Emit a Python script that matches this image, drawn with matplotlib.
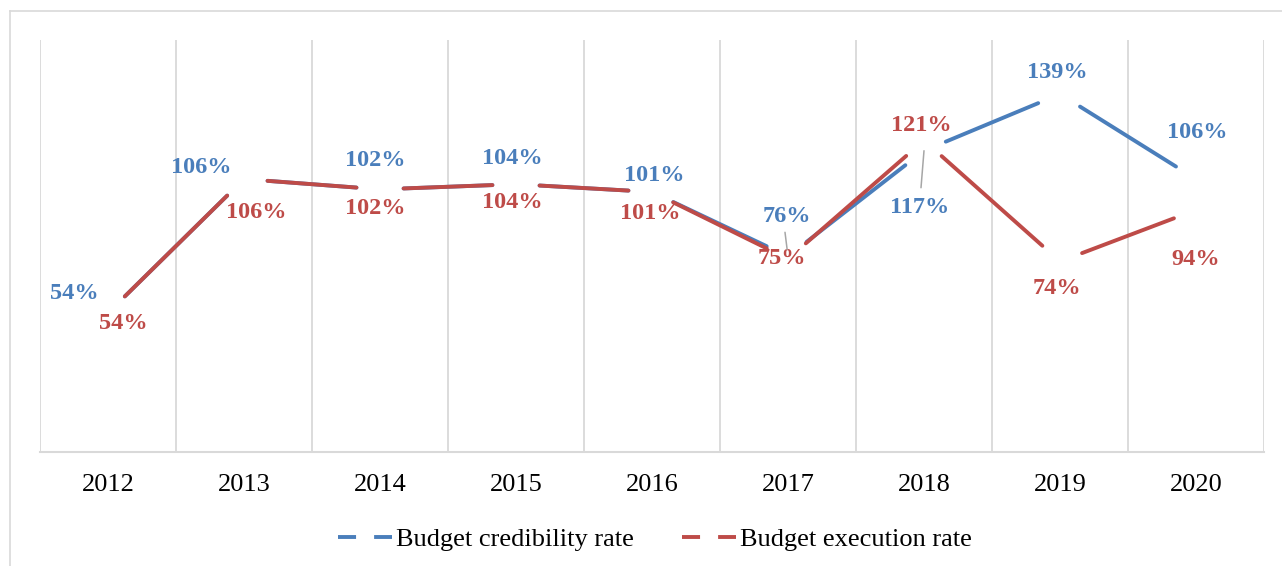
import matplotlib
matplotlib.use('Agg')
import matplotlib.pyplot as plt
from matplotlib.lines import Line2D

plt.rcParams['font.family'] = ['Liberation Serif', 'DejaVu Serif']
plt.rcParams['lines.scale_dashes'] = False

# ── data ──
years = ['2012', '2013', '2014', '2015', '2016', '2017', '2018', '2019', '2020']
credibility = [54, 106, 102, 104, 101, 76, 117, 139, 106]
execution = [54, 106, 102, 104, 101, 75, 121, 74, 94]

# label offsets (px, relative to point; +y is down in picture)
cred_off = [(-34, -19), (-43, -12), (-5, -29), (-4, -26), (2, -16),
            (-1, -40), (-4, 57), (-3, -22), (1, -47)]
exec_off = [(15, 11), (12, 33), (-5, 19), (-4, 18), (-2, 22),
            (-6, 0), (-3, -15), (-3, 27), (0, 50)]

BLUE = '#4A7EBB'
RED = '#BE4B48'
GRID = '#D9D9D9'
LEADER = '#A6A6A6'
PX = 0.72  # points per pixel at dpi 100

fig = plt.figure(figsize=(12.82, 5.66), dpi=100)
fig.patch.set_facecolor('white')
ax = fig.add_axes([40 / 1282, 1 - 452 / 566, 1224 / 1282, 412 / 566])
ax.set_xlim(-0.5, len(years) - 0.5)
ax.set_ylim(0, 160)
for s in ['top', 'left', 'right']:
    ax.spines[s].set_visible(False)
ax.spines['bottom'].set_color(GRID)
ax.spines['bottom'].set_linewidth(1.5)
ax.set_yticks([])
x = list(range(len(years)))
ax.set_xticks(x)
ax.set_xticklabels(years, fontsize=19)
ax.tick_params(axis='x', length=0, pad=16)

for b in range(len(years) + 1):
    ax.axvline(b - 0.5, color=GRID, lw=1.3, zorder=0)


def draw_series(vals, color):
    # each segment stops short of the points, as in the source
    for i in range(len(vals) - 1):
        ax.annotate('', xy=(x[i + 1], vals[i + 1]), xytext=(x[i], vals[i]),
                    arrowprops=dict(arrowstyle='-', color=color, lw=2.8,
                                    shrinkA=17, shrinkB=17))


draw_series(credibility, BLUE)
draw_series(execution, RED)

for i, v in enumerate(credibility):
    dx, dy = cred_off[i]
    ax.annotate(f'{v}%', (x[i], v), xytext=(dx * PX, -dy * PX),
                textcoords='offset points', ha='center', va='center',
                fontsize=17.5, fontweight='bold', color=BLUE)
for i, v in enumerate(execution):
    dx, dy = exec_off[i]
    ax.annotate(f'{v}%', (x[i], v), xytext=(dx * PX, -dy * PX),
                textcoords='offset points', ha='center', va='center',
                fontsize=17.5, fontweight='bold', color=RED)

# leader lines for the crowded labels (2017 blue, 2018 blue)
ax.annotate('', xy=(x[5], credibility[5]), xytext=(-3 * PX, 24 * PX),
            textcoords='offset points', xycoords='data',
            arrowprops=dict(arrowstyle='-', color=LEADER, lw=1.1,
                            shrinkA=0, shrinkB=5))
ax.annotate('', xy=(x[6], credibility[6]), xytext=(-3 * PX, -37 * PX),
            textcoords='offset points', xycoords='data',
            arrowprops=dict(arrowstyle='-', color=LEADER, lw=1.1,
                            shrinkA=0, shrinkB=0))

handles = [Line2D([], [], color=BLUE, lw=2.8, dashes=(13, 13)),
           Line2D([], [], color=RED, lw=2.8, dashes=(13, 13))]
fig.legend(handles, ['Budget credibility rate', 'Budget execution rate'],
           loc='center', bbox_to_anchor=(655 / 1282, 1 - 539 / 566), ncol=2,
           frameon=False, fontsize=19, handlelength=2.05, handletextpad=0.15,
           columnspacing=1.8)

# outer chart frame (clipped by the image edge on right and bottom)
fig.add_artist(Line2D([10 / 1282, 1], [1 - 11 / 566, 1 - 11 / 566],
                      color=GRID, lw=1.2, transform=fig.transFigure))
fig.add_artist(Line2D([10 / 1282, 10 / 1282], [0, 1 - 11 / 566],
                      color=GRID, lw=1.2, transform=fig.transFigure))

fig.savefig('out.png', dpi=100, facecolor='white')
